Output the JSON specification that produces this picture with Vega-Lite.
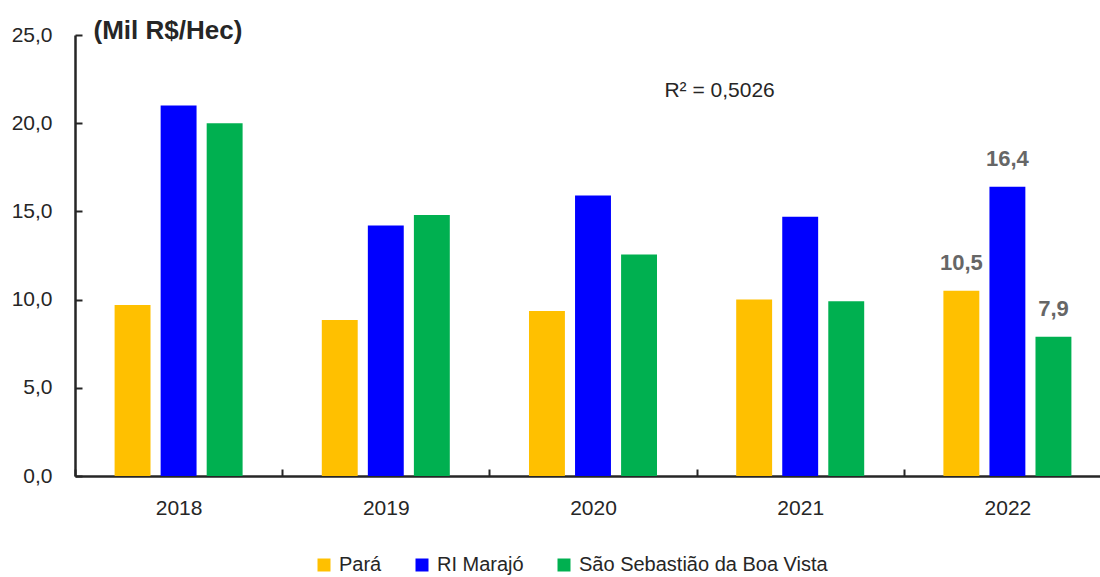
{
  "$schema": "https://vega.github.io/schema/vega-lite/v6.json",
  "autosize": "none",
  "width": 1036,
  "height": 441,
  "padding": {"left": 75, "top": 35, "right": 0, "bottom": 101},
  "background": "white",
  "config": {
    "view": {"stroke": null},
    "font": "Liberation Sans",
    "axis": {"grid": false, "domainColor": "#262626", "domainWidth": 2.5, "tickColor": "#262626", "tickWidth": 2, "labelColor": "#262626", "labelFont": "Liberation Sans", "labelFontSize": 21}
  },
  "datasets": {
    "bars": [
      {"ano": "2018", "serie": "Pará", "valor": 9.7},
      {"ano": "2018", "serie": "RI Marajó", "valor": 21.0},
      {"ano": "2018", "serie": "São Sebastião da Boa Vista", "valor": 20.0},
      {"ano": "2019", "serie": "Pará", "valor": 8.85},
      {"ano": "2019", "serie": "RI Marajó", "valor": 14.2},
      {"ano": "2019", "serie": "São Sebastião da Boa Vista", "valor": 14.8},
      {"ano": "2020", "serie": "Pará", "valor": 9.35},
      {"ano": "2020", "serie": "RI Marajó", "valor": 15.9},
      {"ano": "2020", "serie": "São Sebastião da Boa Vista", "valor": 12.55},
      {"ano": "2021", "serie": "Pará", "valor": 10.0},
      {"ano": "2021", "serie": "RI Marajó", "valor": 14.7},
      {"ano": "2021", "serie": "São Sebastião da Boa Vista", "valor": 9.9},
      {"ano": "2022", "serie": "Pará", "valor": 10.5, "rotulo": "10,5"},
      {"ano": "2022", "serie": "RI Marajó", "valor": 16.4, "rotulo": "16,4"},
      {"ano": "2022", "serie": "São Sebastião da Boa Vista", "valor": 7.9, "rotulo": "7,9"}
    ],
    "r2": [{"ano": "2021", "y": 21.8, "texto": "R² = 0,5026"}]
  },
  "layer": [
    {
      "data": {"name": "bars"},
      "mark": {"type": "bar"},
      "encoding": {
        "x": {"field": "ano", "type": "nominal", "scale": {"paddingInner": 0, "paddingOuter": 0},
          "axis": {"title": null, "labelAngle": 0, "tickBand": "extent", "tickSize": -7, "labelPadding": 28}},
        "xOffset": {"field": "serie", "type": "nominal", "scale": {"paddingInner": 0.22, "paddingOuter": 0.86}},
        "y": {"field": "valor", "type": "quantitative", "scale": {"domain": [0, 25], "nice": false},
          "axis": {"values": [0, 5, 10, 15, 20, 25], "format": ".1f", "labelExpr": "replace(datum.label, '.', ',')", "tickSize": -7, "labelPadding": 30,
            "title": "(Mil R$/Hec)", "titleAngle": 0, "titleAlign": "left", "titleBaseline": "alphabetic", "titleX": 18, "titleY": 3, "titleFontSize": 26, "titleFontWeight": "bold", "titleColor": "#262626", "titleFont": "Liberation Sans"}},
        "color": {"field": "serie", "type": "nominal",
          "scale": {"domain": ["Pará", "RI Marajó", "São Sebastião da Boa Vista"], "range": ["#FFC000", "#0000FF", "#00B050"]},
          "legend": {"title": null, "orient": "none", "legendX": 239, "legendY": 520, "direction": "horizontal", "symbolType": "square", "symbolSize": 169, "symbolStrokeWidth": 0, "labelFontSize": 20, "labelLimit": 0, "labelFont": "Liberation Sans", "labelColor": "#262626", "columnPadding": 30, "labelOffset": 5}}
      }
    },
    {
      "data": {"name": "bars"},
      "transform": [{"filter": "isValid(datum.rotulo)"}],
      "mark": {"type": "text", "baseline": "alphabetic", "dy": -21, "fontSize": 22, "fontWeight": "bold", "color": "#666666", "font": "Liberation Sans"},
      "encoding": {
        "x": {"field": "ano", "type": "nominal"},
        "xOffset": {"field": "serie", "type": "nominal"},
        "y": {"field": "valor", "type": "quantitative"},
        "text": {"field": "rotulo"}
      }
    },
    {
      "data": {"name": "r2"},
      "mark": {"type": "text", "align": "center", "baseline": "middle", "fontSize": 21, "color": "#262626", "dx": 23, "font": "Liberation Sans"},
      "encoding": {
        "x": {"field": "ano", "type": "nominal", "bandPosition": 0},
        "y": {"field": "y", "type": "quantitative"},
        "text": {"field": "texto"}
      }
    }
  ]
}
